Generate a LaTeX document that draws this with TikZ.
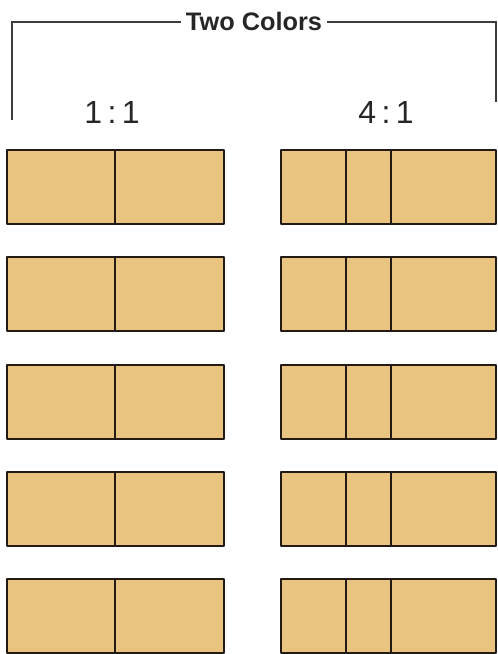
\documentclass[tikz,border=0pt]{standalone}
\usepackage{fontspec}
\setmainfont{Liberation Sans}
\usepackage{tikz}
\usetikzlibrary{positioning}
\definecolor{cellfill}{RGB}{232,196,128}
\definecolor{cellline}{RGB}{36,26,20}
\definecolor{bracketline}{RGB}{60,60,60}

\begin{document}
\begin{tikzpicture}[x=0.75pt, y=-0.75pt,
    cell/.style={fill=cellfill, draw=cellline, line width=2.1pt, line join=round},
    divider/.style={draw=cellline, line width=1.8pt},
    ratio/.style={font=\fontsize{24}{26}\selectfont, text=black!85}]
  \useasboundingbox (0,0) rectangle (497,654);
  % Title and bracket
  \node[font=\bfseries\fontsize{19}{21}\selectfont, text=black!85] (title) at (254,21) {Two Colors};
  \coordinate (lefttop) at (12,22);
  \coordinate (leftend) at (12,120);
  \coordinate (righttop) at (496,22);
  \coordinate (rightend) at (496,102);
  \draw[bracketline, line width=1.1pt] (title.west |- lefttop) -- (lefttop) -- (leftend);
  \draw[bracketline, line width=1.1pt] (title.east |- righttop) -- (righttop) -- (rightend);
  % Ratio labels
  \node[ratio] (oneone) at (112,112) {1\,:\,1};
  \node[ratio] (fourone) at (386,112) {4\,:\,1};
  % Rows of bars
  \foreach \top in {150,257,365,472,579} {
    \draw[cell] (7,\top) rectangle (224,\top+74);
    \draw[divider] (115,\top) -- (115,\top+74);
    \draw[cell] (281,\top) rectangle (496,\top+74);
    \draw[divider] (346,\top) -- (346,\top+74);
    \draw[divider] (391,\top) -- (391,\top+74);
  }
\end{tikzpicture}
\end{document}
